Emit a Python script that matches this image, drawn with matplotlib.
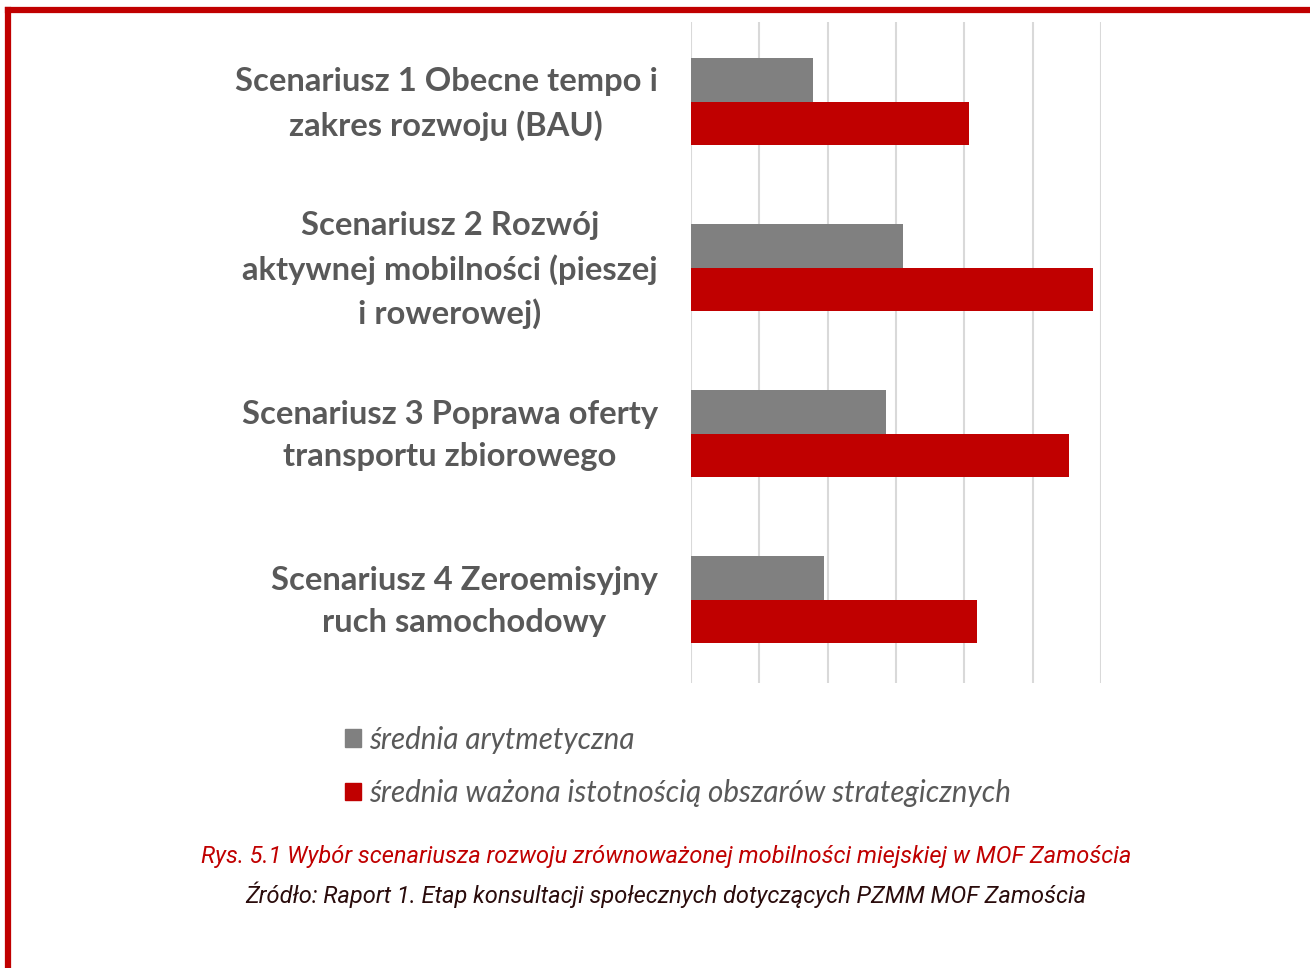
import matplotlib
matplotlib.use("Agg")
import matplotlib.pyplot as plt
from matplotlib.patches import Patch
from matplotlib.lines import Line2D
from matplotlib.transforms import ScaledTranslation

# data
scenarios = [
    "Scenariusz 1 Obecne tempo i\nzakres rozwoju (BAU)",
    "Scenariusz 2 Rozwój\naktywnej mobilności (pieszej\ni rowerowej)",
    "Scenariusz 3 Poprawa oferty\ntransportu zbiorowego",
    "Scenariusz 4 Zeroemisyjny\nruch samochodowy",
]
mean_arith = [1.79, 3.10, 2.85, 1.94]
mean_weighted = [4.07, 5.89, 5.53, 4.18]
series_names = ["średnia arytmetyczna",
                "średnia ważona istotnością obszarów strategicznych"]

GREY = "#808080"
RED = "#C00000"
TEXT = "#595959"

fig = plt.figure(figsize=(13.1, 9.68), dpi=100)
ax = fig.add_axes([691 / 1310, 1 - 683 / 968, 410 / 1310, 661 / 968])

y = list(range(len(scenarios)))
h = 0.262
ax.barh([v - h / 2 for v in y], mean_arith, height=h, color=GREY)
ax.barh([v + h / 2 for v in y], mean_weighted, height=h, color=RED)

ax.set_xlim(0, 6)
ax.set_ylim(3.5, -0.48)
ax.set_xticks(range(7))
ax.set_xticklabels([])
ax.grid(axis="x", color="#d9d9d9", linewidth=1.5)
ax.set_axisbelow(True)
for s in ax.spines.values():
    s.set_visible(False)
ax.tick_params(axis="both", length=0)
ax.tick_params(axis="y", pad=24)
ax.set_yticks(y)
ax.set_yticklabels(scenarios, fontsize=23.6, fontweight="bold", color=TEXT,
                   family="Lato", multialignment="center", linespacing=1.52)
# nudge labels up a bit so they sit centred on the bar pair
shift = ScaledTranslation(0, 7 / 100, fig.dpi_scale_trans)
for lbl in ax.get_yticklabels():
    lbl.set_transform(lbl.get_transform() + shift)

handles = [Patch(color=GREY), Patch(color=RED)]
leg = fig.legend(handles, series_names, loc="upper left",
                 bbox_to_anchor=(318 / 1310, 1 - 699 / 968), frameon=False,
                 prop={"family": "Lato", "style": "italic", "size": 21.3},
                 labelcolor=TEXT, handlelength=0.54, handleheight=0.54,
                 handletextpad=0.27, labelspacing=0.86)

fig.text(666 / 1310, 1 - 857 / 968,
         "Rys. 5.1 Wybór scenariusza rozwoju zrównoważonej mobilności miejskiej w MOF Zamościa",
         ha="center", va="center", color=RED, fontsize=17, style="italic", family="Roboto")
fig.text(666 / 1310, 1 - 895 / 968,
         "Źródło: Raport 1. Etap konsultacji społecznych dotyczących PZMM MOF Zamościa",
         ha="center", va="center", color="#2a0c0c", fontsize=17, style="italic", family="Roboto")

# red frame, open to the right and bottom
fig.add_artist(Line2D([8 / 1310, 1.0], [1 - 10 / 968, 1 - 10 / 968],
                      transform=fig.transFigure, color=RED, linewidth=4.5,
                      solid_capstyle="projecting"))
fig.add_artist(Line2D([8 / 1310, 8 / 1310], [1 - 10 / 968, 0.0],
                      transform=fig.transFigure, color=RED, linewidth=4.5,
                      solid_capstyle="projecting"))

fig.savefig("out.png", dpi=100)
